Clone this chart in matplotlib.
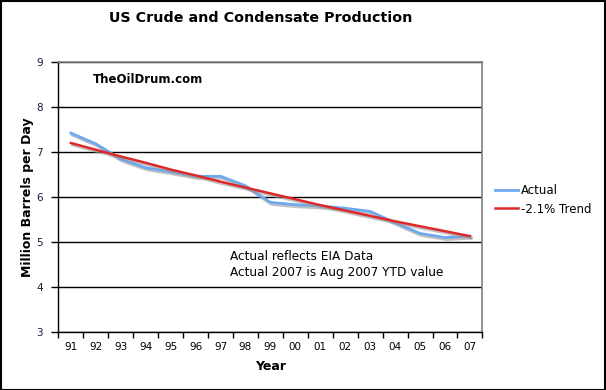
import matplotlib
matplotlib.use("Agg")
import matplotlib.pyplot as plt
import matplotlib.patheffects as pe
from matplotlib.patches import Rectangle
from matplotlib.lines import Line2D
from matplotlib.ticker import FixedLocator

years = ["91", "92", "93", "94", "95", "96", "97", "98", "99",
         "00", "01", "02", "03", "04", "05", "06", "07"]
actual = [7.42, 7.18, 6.84, 6.65, 6.56, 6.46, 6.46, 6.25, 5.88,
          5.83, 5.80, 5.75, 5.68, 5.43, 5.19, 5.10, 5.13]
trend = [7.20, 7.05, 6.90, 6.76, 6.61, 6.48, 6.34, 6.21, 6.08,
         5.95, 5.82, 5.70, 5.58, 5.46, 5.35, 5.24, 5.13]

plt.rcParams['font.family'] = ['DejaVu Sans']

fig = plt.figure(figsize=(6.06, 3.90), dpi=100)
ax = fig.add_axes([0.0965, 0.1487, 0.6995, 0.6923])

x = list(range(len(years)))
shadow = [pe.SimpleLineShadow(offset=(1, -1.5), shadow_color='#999999', alpha=0.6), pe.Normal()]
blue = '#6EA8F0'
red = '#DC2A2A'
ax.plot(x, actual, color=blue, lw=2.0, path_effects=shadow, zorder=3)
ax.plot(x, trend, color=red, lw=1.8, path_effects=shadow, zorder=4)

ax.set_xlim(-0.5, len(years) - 0.5)
ax.set_ylim(3, 9)
ax.set_yticks([3, 4, 5, 6, 7, 8, 9])
ax.yaxis.grid(True, color='black', lw=1.0)
ax.set_axisbelow(True)

ax.set_xticks(x)
ax.set_xticklabels(years, fontsize=7.5)
ax.tick_params(axis='x', which='major', length=0, pad=7)
ax.xaxis.set_minor_locator(FixedLocator([i - 0.5 for i in range(len(years) + 1)]))
ax.tick_params(axis='x', which='minor', length=4, width=1, direction='out', color='black')
ax.tick_params(axis='y', length=5, width=1, direction='out', labelsize=7.5, labelcolor='#1a1a3a', pad=6)

for s in ['top', 'right']:
    ax.spines[s].set_color('#808080')
    ax.spines[s].set_linewidth(1.2)
for s in ['left', 'bottom']:
    ax.spines[s].set_color('black')
    ax.spines[s].set_linewidth(1.0)

ax.set_xlabel('Year', fontsize=9, fontweight='bold', labelpad=6)
ax.set_ylabel('Million Barrels per Day', fontsize=9, fontweight='bold', labelpad=2)
fig.text(0.431, 0.955, 'US Crude and Condensate Production', fontsize=10.3,
         fontweight='bold', ha='center', va='center')

ax.text(0.08, 0.935, 'TheOilDrum.com', transform=ax.transAxes, fontsize=8.5, fontweight='bold', va='center')
ax.text(0.405, 0.25, 'Actual reflects EIA Data\nActual 2007 is Aug 2007 YTD value',
        transform=ax.transAxes, fontsize=8.7, va='center', linespacing=1.3)

handles = [Line2D([], [], color=blue, lw=2.0), Line2D([], [], color=red, lw=1.8)]
fig.legend(handles, ['Actual', '-2.1% Trend'], loc='center left', bbox_to_anchor=(0.8, 0.488),
           frameon=False, fontsize=8.5, handlelength=1.9, handletextpad=0.3, labelspacing=0.5)

fig.patches.append(Rectangle((0.001, 0.001), 0.997, 0.996, transform=fig.transFigure,
                             fill=False, edgecolor='black', lw=1.5))

fig.savefig('out.png', dpi=100)
